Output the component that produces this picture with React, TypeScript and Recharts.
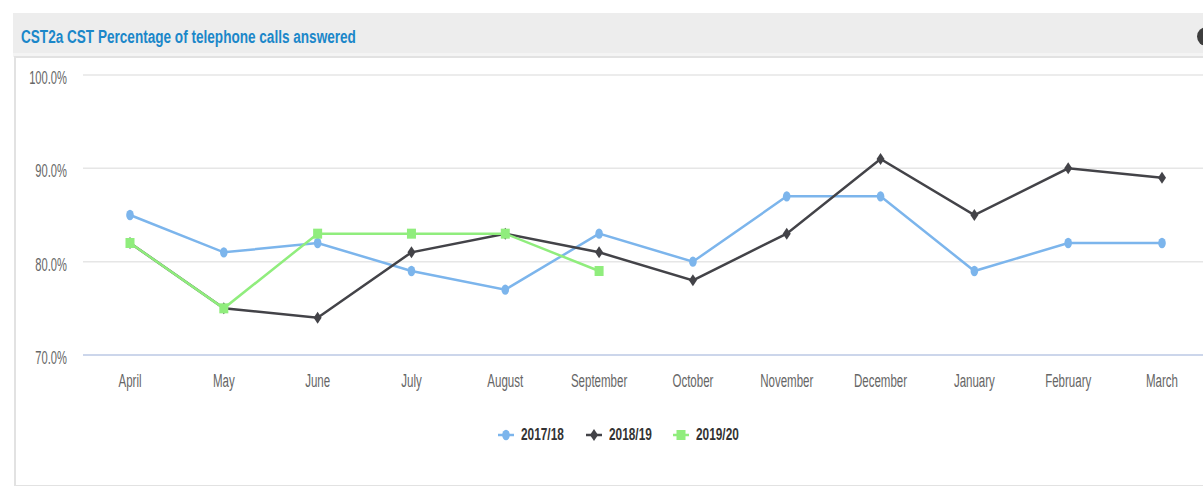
import React from 'react'
import { LineChart, Line, XAxis, YAxis, CartesianGrid } from 'recharts'

const months = ['April', 'May', 'June', 'July', 'August', 'September', 'October', 'November', 'December', 'January', 'February', 'March']
const fy1718 = [85, 81, 82, 79, 77, 83, 80, 87, 87, 79, 82, 82]
const fy1819 = [82, 75, 74, 81, 83, 81, 78, 83, 91, 85, 90, 89]
const fy1920 = [82, 75, 83, 83, 83, 79]
const yTicks = [70, 80, 90, 100]

const SERIES = [
  { key: 'fy1718', name: '2017/18', color: '#7cb5ec', shape: 'circle' },
  { key: 'fy1819', name: '2018/19', color: '#434348', shape: 'diamond' },
  { key: 'fy1920', name: '2019/20', color: '#90ed7d', shape: 'square' },
]

const FONT = 'Arial, "Liberation Sans", sans-serif'

const data = months.map((m, i) => ({
  month: m,
  fy1718: fy1718[i],
  fy1819: fy1819[i],
  fy1920: fy1920[i] ?? null,
}))

function Marker({ cx, cy, color, shape }: { cx: number; cy: number; color: string; shape: string }) {
  if (shape === 'circle') return <ellipse cx={cx} cy={cy} rx={3.8} ry={5.2} fill={color} />
  if (shape === 'diamond')
    return <path d={`M${cx},${cy - 6} L${cx + 4},${cy} L${cx},${cy + 6} L${cx - 4},${cy} Z`} fill={color} />
  return <rect x={cx - 4.5} y={cy - 5} width={9} height={10} fill={color} />
}

function makeDot(color: string, shape: string) {
  return (p: any) => {
    if (p.cy == null || p.value == null) return <g key={p.index} />
    return <Marker key={p.index} cx={p.cx} cy={p.cy} color={color} shape={shape} />
  }
}

function YTick(p: any) {
  const { x, y, payload } = p
  return (
    <text transform={`translate(${x - 16},${y + 9}) scale(0.62,1)`} textAnchor="end" fill="#666" fontSize={18} fontFamily={FONT}>
      {payload.value.toFixed(1)}%
    </text>
  )
}

function XTick(p: any) {
  const { x, y, payload } = p
  return (
    <text transform={`translate(${x},${y + 32}) scale(0.64,1)`} textAnchor="middle" fill="#666" fontSize={18} fontFamily={FONT}>
      {payload.value}
    </text>
  )
}

function LegendRow() {
  return (
    <div style={{ position: 'absolute', left: 498, top: 424 }}>
      {SERIES.map((s, i) => (
        <div key={s.key} style={{ position: 'absolute', left: i * 87.5, top: 0, width: 88, height: 22 }}>
          <svg width={16} height={22} style={{ position: 'absolute', left: 0, top: 0 }}>
            <line x1={0} x2={16} y1={11} y2={11} stroke={s.color} strokeWidth={2.5} />
            <Marker cx={8} cy={11} color={s.color} shape={s.shape} />
          </svg>
          <span
            style={{
              position: 'absolute', left: 23, top: 1, fontFamily: FONT, fontWeight: 'bold', fontSize: 16,
              lineHeight: '20px', color: '#333', whiteSpace: 'nowrap', transform: 'scaleX(0.74)', transformOrigin: 'left',
            }}
          >
            {s.name}
          </span>
        </div>
      ))}
    </div>
  )
}

export default function App() {
  return (
    <div style={{ position: 'absolute', left: 0, top: 0, width: 1203, height: 486, overflow: 'hidden', background: '#fff' }}>
      <div style={{ position: 'absolute', left: 13, top: 13, width: 1220, height: 40, background: '#ededed' }} />
      <div style={{ position: 'absolute', left: 13, top: 53, width: 1220, height: 4, background: '#f4f4f4' }} />
      <div
        style={{
          position: 'absolute', left: 14, top: 56, width: 1220, height: 427,
          border: '2px solid #e2e2e2', background: '#fff',
        }}
      />
      <div
        style={{
          position: 'absolute', left: 21, top: 28, fontFamily: FONT, fontWeight: 'bold', fontSize: 18,
          lineHeight: '18px', color: '#1b87c9', whiteSpace: 'nowrap', transform: 'scaleX(0.754)', transformOrigin: 'left',
        }}
      >
        CST2a CST Percentage of telephone calls answered
      </div>
      <div style={{ position: 'absolute', left: 1197, top: 27, width: 19, height: 19, borderRadius: '50%', background: '#3d3d3d' }} />
      <div style={{ position: 'absolute', left: 0, top: 0 }}>
        <LineChart width={1220} height={486} data={data} margin={{ top: 75, right: 11, bottom: 101, left: 13 }}>
          <CartesianGrid vertical={false} stroke="#e6e6e6" strokeWidth={1.5} />
          <XAxis
            dataKey="month"
            height={30}
            padding={{ left: 47, right: 47 }}
            tickLine={false}
            tickSize={0}
            tickMargin={0}
            axisLine={{ stroke: '#ccd6eb', strokeWidth: 2 }}
            tick={<XTick />}
            interval={0}
          />
          <YAxis
            width={70}
            domain={[70, 100]}
            ticks={yTicks}
            axisLine={false}
            tickLine={false}
            tickSize={0}
            tickMargin={0}
            tick={<YTick />}
            interval={0}
          />
          {SERIES.map((s) => (
            <Line
              key={s.key}
              dataKey={s.key}
              name={s.name}
              stroke={s.color}
              strokeWidth={2.5}
              dot={makeDot(s.color, s.shape)}
              activeDot={false}
              isAnimationActive={false}
              type="linear"
            />
          ))}
        </LineChart>
      </div>
      <LegendRow />
    </div>
  )
}
